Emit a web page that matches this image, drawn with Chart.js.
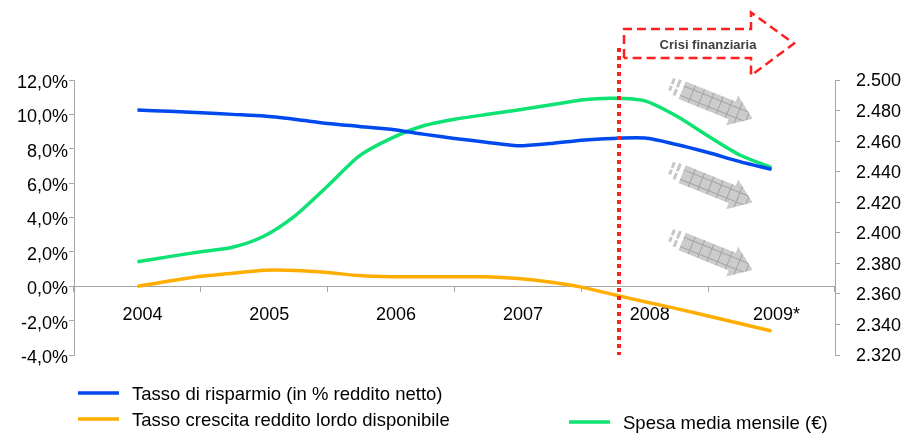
<!DOCTYPE html>
<html>
<head>
<meta charset="utf-8">
<script src="https://cdn.jsdelivr.net/npm/chart.js@4.4.0/dist/chart.umd.min.js"></script>
<style>
  html, body { margin: 0; padding: 0; background: #fff; }
  canvas { display: block; }
</style>
</head>
<body>
<canvas id="crisisChart" width="908" height="433"></canvas>
<script>
// year labels on the axis, data
const yearLabels = ['2004', '2005', '2006', '2007', '2008', '2009*'];
const quarters = [2004, 2004.25, 2004.5, 2004.75, 2005, 2005.25, 2005.5, 2005.75, 2006, 2006.25, 2006.5,
                  2006.75, 2007, 2007.25, 2007.5, 2007.75, 2008, 2008.25, 2008.5, 2008.75, 2009];

// Tasso di risparmio (% reddito netto) - left axis
const savingsRate = [10.25, 10.18, 10.1, 10.0, 9.9, 9.7, 9.47, 9.3, 9.13, 8.85, 8.6,
                     8.38, 8.17, 8.3, 8.5, 8.6, 8.62, 8.25, 7.78, 7.25, 6.8];
// Tasso crescita reddito lordo disponibile - left axis
const incomeGrowth = [0.0, 0.3, 0.58, 0.75, 0.93, 0.92, 0.8, 0.62, 0.55, 0.55, 0.55,
                      0.55, 0.45, 0.25, -0.05, -0.48, -0.9, -1.3, -1.73, -2.17, -2.6];
// Spesa media mensile (euro) - right axis
const monthlySpend = [2381, 2384.4, 2387.6, 2390.5, 2397.9, 2411.6, 2430.6, 2450.3, 2461.8, 2469.9, 2474.3,
                      2477.4, 2480.4, 2483.6, 2486.9, 2488, 2486.3, 2476.4, 2463.3, 2450.9, 2442.6];

const crisisStart = 2007.8;
const crisisLabel = 'Crisi finanziaria';

const font = "'Liberation Sans', Arial, sans-serif";
const axisGray = '#a6a6a6';

const toPoints = vals => quarters.map((q, i) => ({ x: q, y: vals[i] }));

// checker fill used for the grey trend arrows
function makePattern(ctx) {
  const c = document.createElement('canvas');
  c.width = 2; c.height = 2;
  const p = c.getContext('2d');
  p.fillStyle = '#d8d8d8'; p.fillRect(0, 0, 2, 2);
  p.fillStyle = '#c0c0c0'; p.fillRect(0, 0, 1, 1); p.fillRect(1, 1, 1, 1);
  return ctx.createPattern(c, 'repeat');
}

function grayArrow(ctx, x, y, pattern) {
  const ang = 22 * Math.PI / 180;
  ctx.save();
  ctx.translate(x, y);
  ctx.rotate(ang);
  ctx.beginPath();
  ctx.moveTo(0, 0);
  ctx.lineTo(-22, -16);
  ctx.lineTo(-22, -9.5);
  ctx.lineTo(-76, -9.5);
  ctx.lineTo(-76, 9.5);
  ctx.lineTo(-22, 9.5);
  ctx.lineTo(-22, 16);
  ctx.closePath();
  ctx.fillStyle = pattern;
  ctx.fill();
  ctx.clip();
  ctx.strokeStyle = 'rgba(130,130,130,0.55)';
  ctx.lineWidth = 1;
  ctx.beginPath();
  for (let gx = -66; gx < 0; gx += 10) {
    ctx.moveTo(gx + 0.5, -17); ctx.lineTo(gx + 0.5, 17);
  }
  ctx.moveTo(-80, -4.5); ctx.lineTo(0, -4.5);
  ctx.moveTo(-80, 5.5); ctx.lineTo(0, 5.5);
  ctx.stroke();
  ctx.restore();

  // little motion stripes behind the arrow
  ctx.save();
  ctx.translate(x, y);
  ctx.rotate(ang);
  ctx.fillStyle = '#c6c6c6';
  ctx.fillRect(-83, -9, 3, 8);
  ctx.fillRect(-83, 1, 3, 7);
  ctx.fillRect(-89, -8, 3, 6);
  ctx.fillRect(-89, 0, 3, 5);
  ctx.restore();
}

const decorations = {
  id: 'decorations',
  beforeDatasetsDraw(chart) {
    const ctx = chart.ctx;
    const xs = chart.scales.x, ys = chart.scales.y;
    const pattern = makePattern(ctx);
    [9.75, 4.87, 0.95].forEach(v => grayArrow(ctx, xs.getPixelForValue(2008.85), ys.getPixelForValue(v), pattern));
  },
  afterDatasetsDraw(chart) {
    const ctx = chart.ctx;
    const ca = chart.chartArea;
    const lx = Math.round(chart.scales.x.getPixelForValue(crisisStart));

    // dotted vertical line
    ctx.save();
    ctx.strokeStyle = '#ff1f1f';
    ctx.lineWidth = 4;
    ctx.setLineDash([4, 4]);
    ctx.beginPath();
    ctx.moveTo(lx, 48);
    ctx.lineTo(lx, ca.bottom);
    ctx.stroke();

    // dashed arrow box
    const top = 29, bot = 58, mid = 43.5;
    const bx0 = lx + 5, bx1 = lx + 132, tip = lx + 175;
    ctx.lineWidth = 2.5;
    ctx.setLineDash([9, 5]);
    ctx.beginPath();
    ctx.moveTo(bx0, bot);
    ctx.lineTo(bx0, top);
    ctx.lineTo(bx1, top);
    ctx.lineTo(bx1, mid - 31);
    ctx.lineTo(tip, mid);
    ctx.lineTo(bx1, mid + 32);
    ctx.lineTo(bx1, bot);
    ctx.lineTo(bx0, bot);
    ctx.stroke();

    ctx.fillStyle = '#404040';
    ctx.font = 'bold 13px ' + font;
    ctx.textAlign = 'center';
    ctx.textBaseline = 'middle';
    ctx.fillText(crisisLabel, lx + 89, 45);
    ctx.restore();
  },
  afterDraw(chart) {
    // legend laid out like the original: two rows on the left, one lower right
    const ctx = chart.ctx;
    const spots = [[78, 393], [78, 419], [569, 422]];
    ctx.save();
    ctx.font = '18.5px ' + font;
    ctx.textBaseline = 'middle';
    ctx.textAlign = 'left';
    chart.data.datasets.forEach((ds, i) => {
      const [x, y] = spots[i];
      ctx.strokeStyle = ds.borderColor;
      ctx.lineWidth = 3.5;
      ctx.beginPath();
      ctx.moveTo(x, y);
      ctx.lineTo(x + 41, y);
      ctx.stroke();
      ctx.fillStyle = '#000';
      ctx.fillText(ds.label, x + 54, y + 2);
    });
    ctx.restore();
  }
};

new Chart(document.getElementById('crisisChart').getContext('2d'), {
  type: 'line',
  data: {
    datasets: [{
      label: 'Tasso di risparmio (in % reddito netto)',
      data: toPoints(savingsRate),
      borderColor: '#0049ee',
      xAxisID: 'x', yAxisID: 'y'
    }, {
      label: 'Tasso crescita reddito lordo disponibile',
      data: toPoints(incomeGrowth),
      borderColor: '#ffae00',
      xAxisID: 'x', yAxisID: 'y'
    }, {
      label: 'Spesa media mensile (€)',
      data: toPoints(monthlySpend),
      borderColor: '#0de273',
      xAxisID: 'x', yAxisID: 'y2'
    }]
  },
  options: {
    responsive: false,
    animation: false,
    layout: { padding: { left: 0, right: 0, top: 80, bottom: 78 } },
    elements: {
      point: { radius: 0 },
      line: { tension: 0.25, borderWidth: 3.5, fill: false }
    },
    plugins: {
      legend: { display: false },
      tooltip: { enabled: false }
    },
    scales: {
      x: { type: 'linear', display: false, min: 2003.5, max: 2009.5 },
      xYears: {
        type: 'category',
        axis: 'x',
        labels: yearLabels,
        position: { y: 0 },
        offset: true,
        grid: { offset: true, drawOnChartArea: false, tickLength: 5, color: axisGray },
        border: { color: axisGray },
        ticks: { font: { family: font, size: 18 }, color: '#000', padding: 13, labelOffset: 5,
                 maxRotation: 0, minRotation: 0, autoSkip: false }
      },
      y: {
        position: 'left',
        min: -4, max: 12,
        ticks: { stepSize: 2, padding: 1, labelOffset: 3, color: '#000', font: { family: font, size: 18 },
                 callback: v => v.toFixed(1).replace('.', ',') + '%' },
        grid: { drawOnChartArea: false, tickLength: 5, color: axisGray },
        border: { color: axisGray },
        afterFit: s => { s.width = 74; }
      },
      y2: {
        position: 'right',
        min: 2320, max: 2500,
        ticks: { stepSize: 20, padding: 16, labelOffset: 1.5, color: '#000', font: { family: font, size: 18 },
                 callback: v => (v / 1000).toFixed(3) },
        grid: { drawOnChartArea: false, tickLength: 5, color: axisGray },
        border: { color: axisGray },
        afterFit: s => { s.width = 73; }
      }
    }
  },
  plugins: [decorations]
});
</script>
</body>
</html>
